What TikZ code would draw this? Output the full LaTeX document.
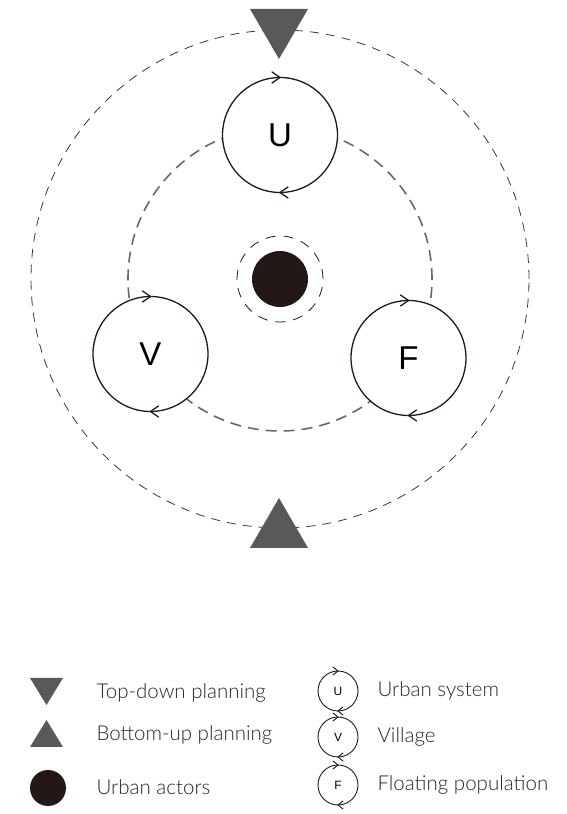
\documentclass[tikz,border=0pt]{standalone}
\usepackage{fontspec}
\setmainfont{Lato}[UprightFont=* Light]
\newfontfamily\lettersans{Liberation Sans}
\usetikzlibrary{decorations.markings}
\definecolor{inkblack}{RGB}{35,24,21}
\definecolor{planninggrey}{RGB}{89,89,89}
\definecolor{ringgrey}{RGB}{105,105,105}
\definecolor{outergrey}{RGB}{55,55,55}
\tikzset{
  % chevrons turning clockwise, set at top and bottom of a loop
  loopmarks/.style n args={3}{postaction={decorate,decoration={markings,
    mark=at position 0.25 with {\draw[inkblack,line width=#3,line cap=round]
      (#1,#2) -- (0,0) -- (#1,-#2);},
    mark=at position 0.75 with {\draw[inkblack,line width=#3,line cap=round]
      (#1,#2) -- (0,0) -- (#1,-#2);}}}},
  systemloop/.style={circle,draw=inkblack,fill=white,line width=1.3pt,
    minimum size=115pt,inner sep=0pt,
    font=\lettersans\fontsize{33}{33}\selectfont,loopmarks={8pt}{5.5pt}{1.3pt}},
  keyloop/.style={circle,draw=inkblack,fill=white,line width=0.9pt,
    minimum size=40pt,inner sep=0pt,
    font=\lettersans\fontsize{12}{12}\selectfont,loopmarks={5pt}{4pt}{0.9pt}},
  keytext/.style={anchor=west,font=\fontsize{20.5}{20.5}\selectfont,text=black!85},
  planmark/.style={fill=planninggrey}
}

\begin{document}
\begin{tikzpicture}[x=1pt,y=1pt]
  \useasboundingbox (0,0) rectangle (566,814);
  \coordinate (hub) at (280,535);
  % rings behind the three systems
  \draw[outergrey,line width=0.8pt,dash pattern=on 9pt off 7pt] (hub) circle (249);
  \draw[ringgrey,line width=1.6pt,dash pattern=on 11pt off 7pt] (hub) circle (152);
  % urban actors
  \node[circle,fill=inkblack,minimum size=56pt,inner sep=0pt] (actors) at (hub) {};
  \draw[inkblack,line width=0.8pt,dash pattern=on 10pt off 8pt] (actors.center) circle (43);
  % systems
  \node[systemloop] (urban)    at (280,679) {U};
  \node[systemloop] (village)  at (150.5,460) {V};
  \node[systemloop] (floating) at (408.5,456) {F};
  % planning directions
  \fill[planmark] (250,805) -- (308,805) -- (279,755) -- cycle;
  \fill[planmark] (250,266) -- (308,266) -- (279,316) -- cycle;

  % legend
  \fill[planmark] (30,136) -- (63,136) -- (46.5,109) -- cycle;
  \fill[planmark] (30,67) -- (63,67) -- (46.5,94) -- cycle;
  \node[circle,fill=inkblack,minimum size=36pt,inner sep=0pt] (keyactors) at (48,26) {};
  \node[keytext] (keytopdown)  at (93,121) {Top-down planning};
  \node[keytext] (keybottomup) at (93,79) {Bottom-up planning};
  \node[keytext] (keyurbanact) at (93,27) {Urban actors};
  \foreach \name/\letter/\y/\label in {keyurban/U/123/Urban system,
                                       keyvillage/V/77/Village,
                                       keyfloating/F/29/Floating population} {
    \node[keyloop] (\name) at (338,\y) {\letter};
    \node[keytext] (\name text) at (374,\y) {\label};
  }
\end{tikzpicture}
\end{document}
